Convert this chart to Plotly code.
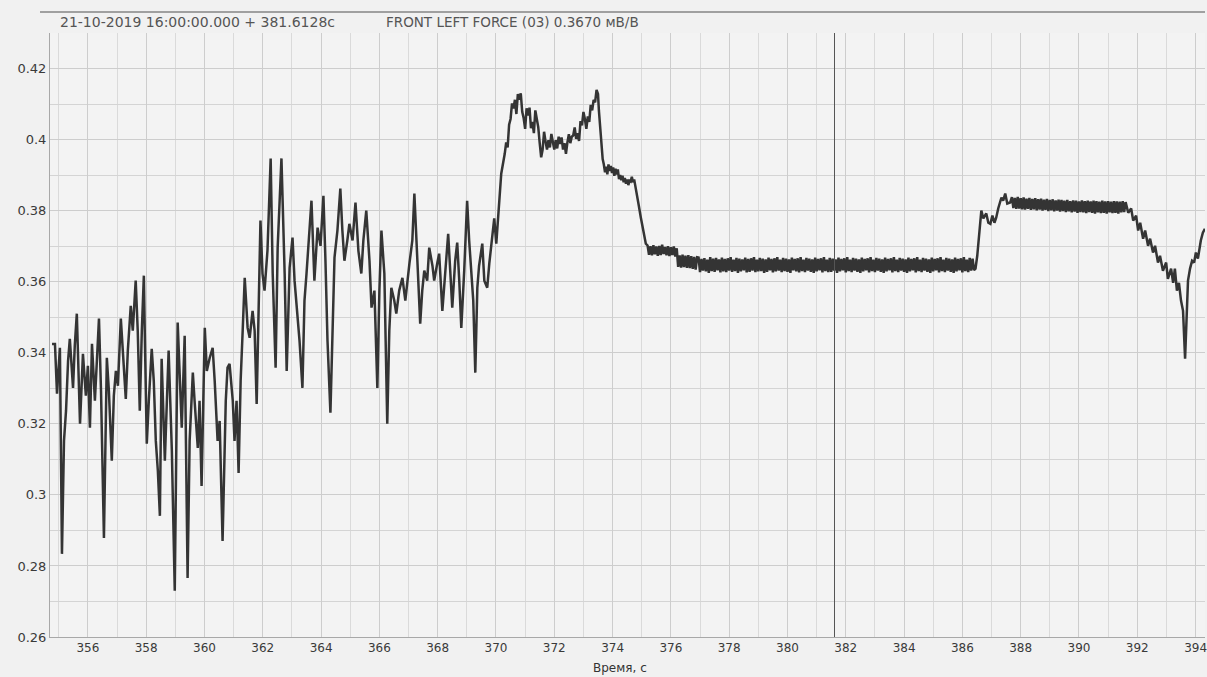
import plotly.graph_objects as go

# ---- recorded channel: FRONT LEFT FORCE (03), мВ/В ----
# transient part up to the load peak: irregular vertices (time, value)
t_rise = [
    354.77, 354.87, 354.94, 355.01, 355.04, 355.11, 355.18, 355.25, 355.32, 355.38,
    355.49, 355.55, 355.62, 355.73, 355.79, 355.83, 355.93, 356.00, 356.07, 356.14,
    356.24, 356.31, 356.38, 356.45, 356.55, 356.65, 356.72, 356.82, 356.89, 356.96,
    357.03, 357.13, 357.23, 357.30, 357.37, 357.47, 357.54, 357.64, 357.71, 357.78,
    357.85, 357.92, 357.95, 358.02, 358.09, 358.19, 358.26, 358.33, 358.40, 358.47,
    358.53, 358.64, 358.71, 358.77, 358.88, 358.98, 359.08, 359.15, 359.22, 359.32,
    359.42, 359.49, 359.60, 359.66, 359.77, 359.83, 359.90, 360.01, 360.08, 360.18,
    360.28, 360.35, 360.45, 360.52, 360.62, 360.73, 360.79, 360.86, 360.97, 361.03,
    361.10, 361.17, 361.24, 361.31, 361.38, 361.48, 361.55, 361.65, 361.72, 361.79,
    361.86, 361.92, 361.99, 362.06, 362.16, 362.27, 362.34, 362.44, 362.51, 362.58,
    362.64, 362.75, 362.82, 362.92, 363.02, 363.09, 363.16, 363.26, 363.36, 363.43,
    363.50, 363.60, 363.67, 363.77, 363.88, 363.98, 364.08, 364.15, 364.22, 364.32,
    364.39, 364.46, 364.56, 364.66, 364.73, 364.80, 364.90, 364.97, 365.08, 365.18,
    365.28, 365.38, 365.45, 365.55, 365.66, 365.73, 365.83, 365.93, 366.00, 366.07,
    366.14, 366.17, 366.27, 366.34, 366.41, 366.51, 366.58, 366.68, 366.79, 366.89,
    367.03, 367.13, 367.20, 367.30, 367.40, 367.47, 367.54, 367.64, 367.71, 367.82,
    367.88, 367.99, 368.05, 368.16, 368.26, 368.36, 368.43, 368.50, 368.60, 368.67,
    368.74, 368.81, 368.91, 369.01, 369.08, 369.15, 369.22, 369.29, 369.36, 369.42,
    369.53, 369.60, 369.70, 369.77, 369.87, 369.94, 370.01, 370.11, 370.18,
]
v_rise = [
    0.3425, 0.3425, 0.3285, 0.3400, 0.3414, 0.2834, 0.3152, 0.3237, 0.3377, 0.3439,
    0.3301, 0.3420, 0.3510, 0.3200, 0.3349, 0.3397, 0.3279, 0.3363, 0.3189, 0.3425,
    0.3265, 0.3406, 0.3496, 0.3293, 0.2879, 0.3386, 0.3293, 0.3096, 0.3279, 0.3349,
    0.3307, 0.3496, 0.3349, 0.3270, 0.3406, 0.3532, 0.3462, 0.3603, 0.3462, 0.3237,
    0.3462, 0.3617, 0.3462, 0.3144, 0.3265, 0.3411, 0.3321, 0.3152, 0.3068, 0.2941,
    0.3383, 0.3096, 0.3265, 0.3406, 0.3124, 0.2730, 0.3485, 0.3321, 0.3189, 0.3448,
    0.2766, 0.3152, 0.3344, 0.3265, 0.3132, 0.3265, 0.3025, 0.3470, 0.3349, 0.3386,
    0.3414, 0.3321, 0.3152, 0.3208, 0.2870, 0.3265, 0.3358, 0.3369, 0.3265, 0.3152,
    0.3265, 0.3062, 0.3321, 0.3462, 0.3611, 0.3470, 0.3442, 0.3518, 0.3462, 0.3256,
    0.3547, 0.3772, 0.3623, 0.3575, 0.3687, 0.3947, 0.3623, 0.3358, 0.3696, 0.3828,
    0.3947, 0.3623, 0.3349, 0.3639, 0.3724, 0.3603, 0.3538, 0.3434, 0.3301, 0.3547,
    0.3623, 0.3744, 0.3828, 0.3603, 0.3752, 0.3701, 0.3842, 0.3659, 0.3434, 0.3231,
    0.3462, 0.3668, 0.3744, 0.3862, 0.3744, 0.3659, 0.3716, 0.3763, 0.3716, 0.3823,
    0.3687, 0.3623, 0.3716, 0.3800, 0.3659, 0.3527, 0.3575, 0.3301, 0.3575, 0.3744,
    0.3659, 0.3623, 0.3200, 0.3462, 0.3583, 0.3547, 0.3510, 0.3575, 0.3611, 0.3547,
    0.3651, 0.3716, 0.3848, 0.3668, 0.3482, 0.3575, 0.3631, 0.3603, 0.3696, 0.3645,
    0.3603, 0.3654, 0.3679, 0.3518, 0.3631, 0.3735, 0.3631, 0.3527, 0.3659, 0.3710,
    0.3603, 0.3470, 0.3631, 0.3828, 0.3716, 0.3631, 0.3547, 0.3344, 0.3583, 0.3645,
    0.3707, 0.3603, 0.3583, 0.3651, 0.3716, 0.3778, 0.3707, 0.3828, 0.3904,
]

# load peak: sampled every 0.05 s from 370.30 s
peak_start = 370.30
peak_step = 0.05
v_peak = [
    0.3960, 0.3992, 0.3978, 0.4042, 0.4058, 0.4102, 0.4088, 0.4112, 0.4072, 0.4128,
    0.4112, 0.4130, 0.4078, 0.4060, 0.4030, 0.4088, 0.4068, 0.4090, 0.4032, 0.4050,
    0.4018, 0.4082, 0.4058, 0.4035, 0.3990, 0.3950, 0.3972, 0.4022, 0.3995, 0.3972,
    0.3998, 0.3978, 0.4016, 0.3990, 0.3972, 0.3998, 0.3975, 0.4008, 0.3988, 0.4006,
    0.3972, 0.3990, 0.3960, 0.3992, 0.4015, 0.3990, 0.4008, 0.4012, 0.4034, 0.4002,
    0.4018, 0.3996, 0.4052, 0.4040, 0.4078, 0.4058, 0.4030, 0.4065, 0.4050, 0.4098,
    0.4082, 0.4112, 0.4105, 0.4140, 0.4128,
]

# release from the peak down to the first level
t_fall = [373.53, 373.57, 373.62, 373.66, 373.70, 373.74, 373.78, 373.82, 373.86, 373.90,
          373.94, 373.98, 374.02, 374.06, 374.10, 374.14, 374.18, 374.22, 374.26, 374.30,
          374.34, 374.38, 374.42, 374.46, 374.50, 374.54, 374.58, 374.62, 374.66, 374.70,
          374.74, 374.80, 374.90, 374.97, 375.08, 375.14]
v_fall = [0.4082, 0.4040, 0.3990, 0.3945, 0.3930, 0.3908, 0.3924, 0.3902, 0.3930, 0.3912,
          0.3926, 0.3906, 0.3922, 0.3898, 0.3918, 0.3902, 0.3916, 0.3889, 0.3900, 0.3886,
          0.3898, 0.3880, 0.3892, 0.3876, 0.3888, 0.3872, 0.3884, 0.3882, 0.3895, 0.3880,
          0.3888, 0.3856, 0.3814, 0.3780, 0.3730, 0.3707]

# steady part 1: sampled every 0.05 s from 375.20 s
steady1_start = 375.20
steady1_step = 0.05
v_steady1 = [
    0.3702, 0.3676, 0.3700, 0.3674, 0.3703, 0.3677, 0.3699, 0.3673, 0.3701, 0.3675,
    0.3704, 0.3678, 0.3698, 0.3674, 0.3700, 0.3672, 0.3697, 0.3675, 0.3699, 0.3671,
    0.3694,
    0.3642, 0.3674, 0.3640, 0.3676, 0.3641, 0.3673, 0.3639, 0.3675, 0.3638, 0.3672,
    0.3636, 0.3670, 0.3634, 0.3669,
    0.3668, 0.3627, 0.3664, 0.3631, 0.3666, 0.3629, 0.3662, 0.3625, 0.3669, 0.3630,
    0.3665, 0.3628, 0.3667, 0.3632, 0.3663, 0.3626, 0.3668, 0.3629, 0.3664, 0.3627,
    0.3666, 0.3631, 0.3669, 0.3628, 0.3662, 0.3630, 0.3667, 0.3625, 0.3665, 0.3629,
    0.3663, 0.3632, 0.3668, 0.3626, 0.3664, 0.3628, 0.3666, 0.3631, 0.3669, 0.3627,
    0.3662, 0.3629, 0.3667, 0.3630, 0.3665, 0.3625, 0.3663, 0.3628, 0.3668, 0.3632,
    0.3664, 0.3626, 0.3666, 0.3629, 0.3669, 0.3631, 0.3662, 0.3627, 0.3667, 0.3630,
    0.3665, 0.3628, 0.3663, 0.3625, 0.3668, 0.3632, 0.3664, 0.3629, 0.3666, 0.3626,
    0.3669, 0.3630, 0.3662, 0.3627, 0.3667, 0.3631, 0.3665, 0.3628, 0.3663, 0.3625,
    0.3668, 0.3629, 0.3664, 0.3632, 0.3666, 0.3626, 0.3669, 0.3630, 0.3662, 0.3627,
    0.3667, 0.3628, 0.3665, 0.3631, 0.3663, 0.3625, 0.3668, 0.3629, 0.3664, 0.3632,
    0.3666, 0.3626, 0.3669, 0.3630, 0.3662, 0.3627, 0.3667, 0.3631, 0.3665, 0.3628,
    0.3663, 0.3625, 0.3668, 0.3629, 0.3664, 0.3632, 0.3666, 0.3626, 0.3669, 0.3630,
    0.3662, 0.3627, 0.3667, 0.3631, 0.3665, 0.3628, 0.3663, 0.3625, 0.3668, 0.3629,
    0.3664, 0.3632, 0.3666, 0.3626, 0.3669, 0.3630, 0.3662, 0.3627, 0.3667, 0.3631,
    0.3665, 0.3628, 0.3663, 0.3625, 0.3668, 0.3629, 0.3664, 0.3632, 0.3666, 0.3626,
    0.3669, 0.3630, 0.3662, 0.3627, 0.3667, 0.3631, 0.3665, 0.3628, 0.3663, 0.3625,
    0.3668, 0.3629, 0.3664, 0.3632, 0.3666, 0.3626, 0.3669, 0.3630, 0.3662, 0.3627,
    0.3667, 0.3631, 0.3665, 0.3628, 0.3663, 0.3625, 0.3668, 0.3629, 0.3664, 0.3632,
    0.3666, 0.3626, 0.3669, 0.3630, 0.3662, 0.3627, 0.3667, 0.3631, 0.3665, 0.3633,
]

# step up to the second level
t_step = [386.45, 386.51, 386.58, 386.65, 386.72, 386.82, 386.89, 386.96, 387.03,
          387.10, 387.16, 387.23, 387.34, 387.40, 387.47, 387.54, 387.64]
v_step = [0.3637, 0.3673, 0.3744, 0.3800, 0.3778, 0.3792, 0.3766, 0.3763, 0.3786,
          0.3766, 0.3780, 0.3806, 0.3837, 0.3828, 0.3848, 0.3820, 0.3823]

# steady part 2: sampled every 0.05 s from 387.70 s
steady2_start = 387.70
steady2_step = 0.05
v_steady2 = [
    0.3838, 0.3807, 0.3836, 0.3805, 0.3839, 0.3806, 0.3835, 0.3804, 0.3837, 0.3803,
    0.3834, 0.3805, 0.3836, 0.3802, 0.3833, 0.3804, 0.3835, 0.3801, 0.3832, 0.3803,
    0.3834, 0.3800, 0.3831, 0.3802, 0.3833, 0.3799, 0.3830, 0.3801, 0.3832, 0.3798,
    0.3829, 0.3800, 0.3831, 0.3797, 0.3830, 0.3799, 0.3828, 0.3796, 0.3830, 0.3798,
    0.3827, 0.3795, 0.3829, 0.3797, 0.3828, 0.3794, 0.3826, 0.3796, 0.3829, 0.3795,
    0.3827, 0.3793, 0.3828, 0.3796, 0.3826, 0.3794, 0.3828, 0.3792, 0.3827, 0.3795,
    0.3825, 0.3793, 0.3828, 0.3794, 0.3826, 0.3792, 0.3827, 0.3795, 0.3825, 0.3793,
    0.3827, 0.3794, 0.3826, 0.3792, 0.3825, 0.3795, 0.3827, 0.3796, 0.3824,
]

# unloading and dip at the end of the record
t_drop = [391.69, 391.79, 391.86, 391.96, 392.03, 392.10, 392.20, 392.27, 392.37, 392.44,
          392.54, 392.61, 392.71, 392.78, 392.88, 392.99, 393.05, 393.16, 393.23, 393.29,
          393.36, 393.43, 393.50, 393.57, 393.64, 393.71, 393.74, 393.81, 393.88, 393.95,
          394.01, 394.08, 394.18, 394.25, 394.32]
v_drop = [0.3794, 0.3806, 0.3772, 0.3786, 0.3744, 0.3766, 0.3721, 0.3744, 0.3701, 0.3721,
          0.3682, 0.3701, 0.3654, 0.3673, 0.3631, 0.3654, 0.3608, 0.3637, 0.3597, 0.3637,
          0.3575, 0.3597, 0.3547, 0.3518, 0.3383, 0.3547, 0.3603, 0.3637, 0.3659, 0.3654,
          0.3682, 0.3665, 0.3716, 0.3738, 0.3749]

# axis ticks
x_ticks = list(range(356, 395, 2))
y_tickvals = [0.26, 0.28, 0.30, 0.32, 0.34, 0.36, 0.38, 0.40, 0.42]
y_ticktext = ["0.26", "0.28", "0.3", "0.32", "0.34", "0.36", "0.38", "0.4", "0.42"]

# cursor
cursor_date = "21-10-2019 16:00:00.000"
cursor_t = 381.6128
channel = "FRONT LEFT FORCE (03)"
cursor_value = 0.3670
unit = "мВ/В"


def sampled(start, step, values):
    return [round(start + i * step, 3) for i in range(len(values))]


t_all = (t_rise
         + sampled(peak_start, peak_step, v_peak)
         + t_fall
         + sampled(steady1_start, steady1_step, v_steady1)
         + t_step
         + sampled(steady2_start, steady2_step, v_steady2)
         + t_drop)
v_all = v_rise + v_peak + v_fall + v_steady1 + v_step + v_steady2 + v_drop

W, H = 1207, 677
ml, mr, mt, mb = 50, 0, 33, 40
pw, ph = W - ml - mr, H - mt - mb

fig = go.Figure()
fig.add_trace(go.Scatter(
    x=t_all, y=v_all, mode="lines",
    line=dict(color="#343434", width=2.5),
    hoverinfo="skip", showlegend=False,
))

grid = "#cdcdcd"
tick_font = dict(family="DejaVu Sans, Verdana, sans-serif", size=12, color="#3a3a3a")
fig.update_layout(
    width=W, height=H,
    margin=dict(l=ml, r=mr, t=mt, b=mb, pad=0),
    paper_bgcolor="#f1f1f1",
    plot_bgcolor="#f3f3f3",
    font=dict(family="DejaVu Sans, Verdana, sans-serif", color="#333333", size=12),
    xaxis=dict(
        range=[354.7, 354.7 + pw / 29.2],
        tickvals=x_ticks, ticks="", showgrid=True, gridcolor=grid, gridwidth=1,
        minor=dict(dtick=1, tick0=356, showgrid=True, gridcolor="#dadada", gridwidth=1),
        showline=True, linecolor="#a8a8a8", linewidth=1,
        zeroline=False, tickfont=tick_font, ticklabeloverflow="allow",
    ),
    yaxis=dict(
        range=[0.26, 0.43],
        tickvals=y_tickvals, ticktext=y_ticktext, ticks="",
        showgrid=True, gridcolor=grid, gridwidth=1,
        minor=dict(dtick=0.01, tick0=0.26, showgrid=True, gridcolor="#d4d4d4", gridwidth=1),
        showline=True, linecolor="#a8a8a8", linewidth=1,
        zeroline=False, tickfont=dict(tick_font, size=13),
    ),
)

# cursor line
fig.add_shape(type="line", xref="x", yref="paper", x0=cursor_t, x1=cursor_t, y0=0, y1=1,
              line=dict(color="#555555", width=1))
# header frame line
fig.add_shape(type="line", xref="paper", yref="paper",
              x0=-10 / pw, x1=1, y0=1 + 21 / ph, y1=1 + 21 / ph,
              line=dict(color="#a0a0a0", width=2))

header_font = dict(family="DejaVu Sans, Verdana, sans-serif", size=14, color="#555555")
fig.add_annotation(
    text=f"{cursor_date} + {cursor_t:.4f}с", xref="paper", yref="paper",
    x=8 / pw, y=1 + 11 / ph, xanchor="left", yanchor="middle",
    showarrow=False, font=header_font,
)
fig.add_annotation(
    text=f"{channel} {cursor_value:.4f} {unit}", xref="paper", yref="paper",
    x=(385 - ml) / pw, y=1 + 11 / ph, xanchor="left", yanchor="middle",
    showarrow=False, font=dict(header_font, size=13.5),
)
fig.add_annotation(
    text="Время, с", xref="paper", yref="paper",
    x=(621 - ml) / pw, y=-(668 - (H - mb)) / ph, xanchor="center", yanchor="middle",
    showarrow=False, font=dict(family="DejaVu Sans, Verdana, sans-serif", size=12, color="#333333"),
)

fig.write_html("out.html")
